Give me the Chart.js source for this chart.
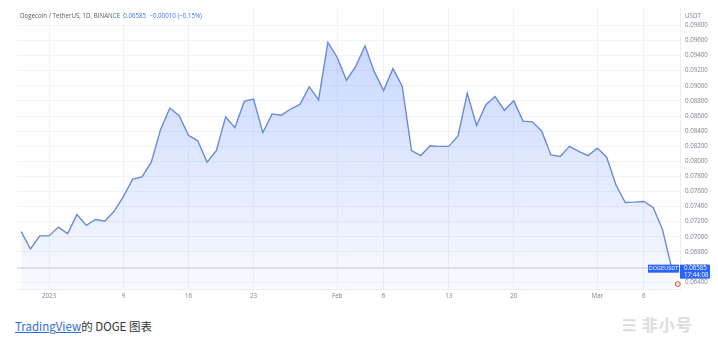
<!DOCTYPE html>
<html>
<head>
<meta charset="utf-8">
<script src="https://cdn.jsdelivr.net/npm/chart.js@4.4.1/dist/chart.umd.min.js"></script>
<style>
  html, body { margin: 0; padding: 0; background: #ffffff; }
  #wrap { position: relative; width: 718px; height: 341px; overflow: hidden; }
  #box { position: absolute; left: 0; top: 0; width: 718px; height: 308px; }
  #hdr { position: absolute; left: 20px; top: 11px; font-family: "Open Sans", "Noto Sans", sans-serif; font-size: 6.2px; color: #555a66; white-space: nowrap; }
  #hdr .b { color: #3d6ff0; }
  #usdt { position: absolute; left: 685px; top: 11px; font-family: "Open Sans", sans-serif; font-size: 6.2px; color: #7a7f8c; }
  #cap { position: absolute; left: 15px; top: 318px; font-family: "Noto Sans CJK SC", "Noto Sans", sans-serif; font-size: 11.5px; color: #333; white-space: nowrap; }
  #cap a { color: #2f6bd8; text-decoration: underline; }
  #wm { position: absolute; left: 622px; top: 312px; font-family: "Noto Sans CJK SC", sans-serif; font-size: 16px; color: #dcdcdc; letter-spacing: 1px; font-weight: bold; }
</style>
</head>
<body>
<div id="wrap">
  <div id="box"><canvas id="c" width="718" height="308"></canvas></div>
  <div id="hdr">Dogecoin / TetherUS, 1D, BINANCE&nbsp; <span class="b">0.06585&nbsp; −0.00010 (−0.15%)</span></div>
  <div id="usdt">USDT</div>
  <div id="cap"><a>TradingView</a>的 DOGE 图表</div>
  <div id="wm">☰ 非小号</div>
</div>
<script>
// ---- data ----
const dates = [
  "2022-12-29","2022-12-30","2022-12-31",
  "2023-01-01","2023-01-02","2023-01-03","2023-01-04","2023-01-05","2023-01-06","2023-01-07","2023-01-08",
  "2023-01-09","2023-01-10","2023-01-11","2023-01-12","2023-01-13","2023-01-14","2023-01-15","2023-01-16",
  "2023-01-17","2023-01-18","2023-01-19","2023-01-20","2023-01-21","2023-01-22","2023-01-23","2023-01-24",
  "2023-01-25","2023-01-26","2023-01-27","2023-01-28","2023-01-29","2023-01-30","2023-01-31",
  "2023-02-01","2023-02-02","2023-02-03","2023-02-04","2023-02-05","2023-02-06","2023-02-07","2023-02-08",
  "2023-02-09","2023-02-10","2023-02-11","2023-02-12","2023-02-13","2023-02-14","2023-02-15","2023-02-16",
  "2023-02-17","2023-02-18","2023-02-19","2023-02-20","2023-02-21","2023-02-22","2023-02-23","2023-02-24",
  "2023-02-25","2023-02-26","2023-02-27","2023-02-28",
  "2023-03-01","2023-03-02","2023-03-03","2023-03-04","2023-03-05","2023-03-06","2023-03-07","2023-03-08","2023-03-09"
];
const prices = [
  0.07068,0.06839,0.07012,
  0.07012,0.07129,0.07042,0.07295,0.07151,0.07230,0.07207,0.07338,
  0.07533,0.07764,0.07794,0.07989,0.08423,0.08706,0.08605,0.08345,
  0.08272,0.07989,0.08142,0.08588,0.08445,0.08793,0.08823,0.08380,
  0.08628,0.08611,0.08693,0.08754,0.08988,0.08814,0.09575,
  0.09379,0.09074,0.09257,0.09530,0.09184,0.08936,0.09227,0.08996,
  0.08142,0.08076,0.08207,0.08198,0.08198,0.08337,0.08901,0.08475,
  0.08749,0.08858,0.08676,0.08801,0.08532,0.08523,0.08402,0.08084,
  0.08063,0.08198,0.08132,0.08076,
  0.08175,0.08054,0.07686,0.07455,0.07459,0.07468,0.07390,0.07099,0.06585
];
const xTickDates  = ["2023-01-01","2023-01-09","2023-01-16","2023-01-23","2023-02-01","2023-02-06","2023-02-13","2023-02-20","2023-03-01","2023-03-06"];
const xTickLabels = ["2023","9","16","23","Feb","6","13","20","Mar","6"];
const yTicks = [0.064,0.066,0.068,0.070,0.072,0.074,0.076,0.078,0.080,0.082,0.084,0.086,0.088,0.090,0.092,0.094,0.096,0.098];
const lastPrice = 0.06585;
const symbol = "DOGEUSDT";
const countdown = "17:44:08";

// ---- build ----
const points = prices.map((v, i) => ({ x: i, y: v }));
const tickIdx = xTickDates.map(d => dates.indexOf(d));
const lastIdx = prices.length - 1;

const tickFont = { family: "Open Sans, Noto Sans, sans-serif", size: 6.2 };

const priceTagPlugin = {
  id: 'priceTag',
  afterDatasetsDraw(chart) {
    const ctx = chart.ctx;
    const ys = chart.scales.y, xs = chart.scales.x;
    const py = ys.getPixelForValue(lastPrice);
    const px = xs.getPixelForValue(lastIdx);
    ctx.save();
    ctx.fillStyle = '#fbe3e3';
    ctx.strokeStyle = '#e0504a';
    ctx.lineWidth = 1;
    ctx.beginPath();
    ctx.arc(px + 6, py + 16, 2.5, 0, Math.PI * 2);
    ctx.fill(); ctx.stroke();
    const area = chart.chartArea;
    ctx.font = '5.5px "Open Sans", sans-serif';
    const w1 = 31;
    ctx.fillStyle = '#2962ff';
    ctx.fillRect(area.right - w1 - 1, py - 3.5, w1, 8);
    ctx.fillStyle = '#ffffff';
    ctx.textBaseline = 'middle';
    ctx.textAlign = 'center';
    ctx.fillText(symbol, area.right - w1 / 2 - 1, py + 0.5);
    ctx.fillStyle = '#2962ff';
    ctx.fillRect(area.right, py - 3.5, 30, 14);
    ctx.fillStyle = '#ffffff';
    ctx.textAlign = 'left';
    ctx.font = '6.2px "Open Sans", sans-serif';
    ctx.fillText(lastPrice.toFixed(5), area.right + 4, py + 0.5);
    ctx.fillText(countdown, area.right + 4, py + 7);
    ctx.restore();
  }
};

const ctx = document.getElementById('c').getContext('2d');
new Chart(ctx, {
  type: 'line',
  data: {
    datasets: [
      {
        data: points,
        borderColor: '#6a8ad8',
        borderWidth: 1.4,
        pointRadius: 0,
        tension: 0,
        fill: 'start',
        backgroundColor: (c) => {
          const a = c.chart.chartArea;
          if (!a) return 'rgba(41,98,255,0.2)';
          const g = c.chart.ctx.createLinearGradient(0, a.top, 0, a.bottom);
          g.addColorStop(0, 'rgba(41,98,255,0.28)');
          g.addColorStop(1, 'rgba(41,98,255,0.03)');
          return g;
        },
        order: 1
      },
      {
        data: [{ x: -1, y: lastPrice }, { x: lastIdx + 2, y: lastPrice }],
        borderColor: '#d3d6dc',
        borderWidth: 1,
        pointRadius: 0,
        fill: false,
        order: 2
      }
    ]
  },
  options: {
    animation: false,
    responsive: false,
    events: [],
    layout: { padding: { left: 17, top: 4, right: 0, bottom: 0 } },
    plugins: { legend: { display: false }, tooltip: { enabled: false } },
    scales: {
      x: {
        type: 'linear',
        min: -0.45,
        max: lastIdx + 0.89,
        afterBuildTicks: (s) => { s.ticks = tickIdx.map(v => ({ value: v })); },
        afterFit: (s) => { s.height = 19; },
        ticks: {
          autoSkip: false,
          maxRotation: 0,
          padding: 4,
          color: '#7a7f8c',
          font: tickFont,
          callback: (v) => { const k = tickIdx.indexOf(v); return k >= 0 ? xTickLabels[k] : ''; }
        },
        grid: { color: '#f2f3f6', lineWidth: 1, drawTicks: false },
        border: { color: '#eceef2' }
      },
      y: {
        position: 'right',
        min: 0.06309,
        max: 0.10021,
        afterBuildTicks: (s) => { s.ticks = yTicks.map(v => ({ value: v })); },
        afterFit: (s) => { s.width = 38; },
        ticks: {
          padding: 5,
          color: '#7a7f8c',
          font: tickFont,
          callback: (v) => Number(v).toFixed(5)
        },
        grid: { color: '#f2f3f6', lineWidth: 1, drawTicks: false },
        border: { color: '#eceef2' }
      }
    }
  },
  plugins: [priceTagPlugin]
});
</script>
</body>
</html>
